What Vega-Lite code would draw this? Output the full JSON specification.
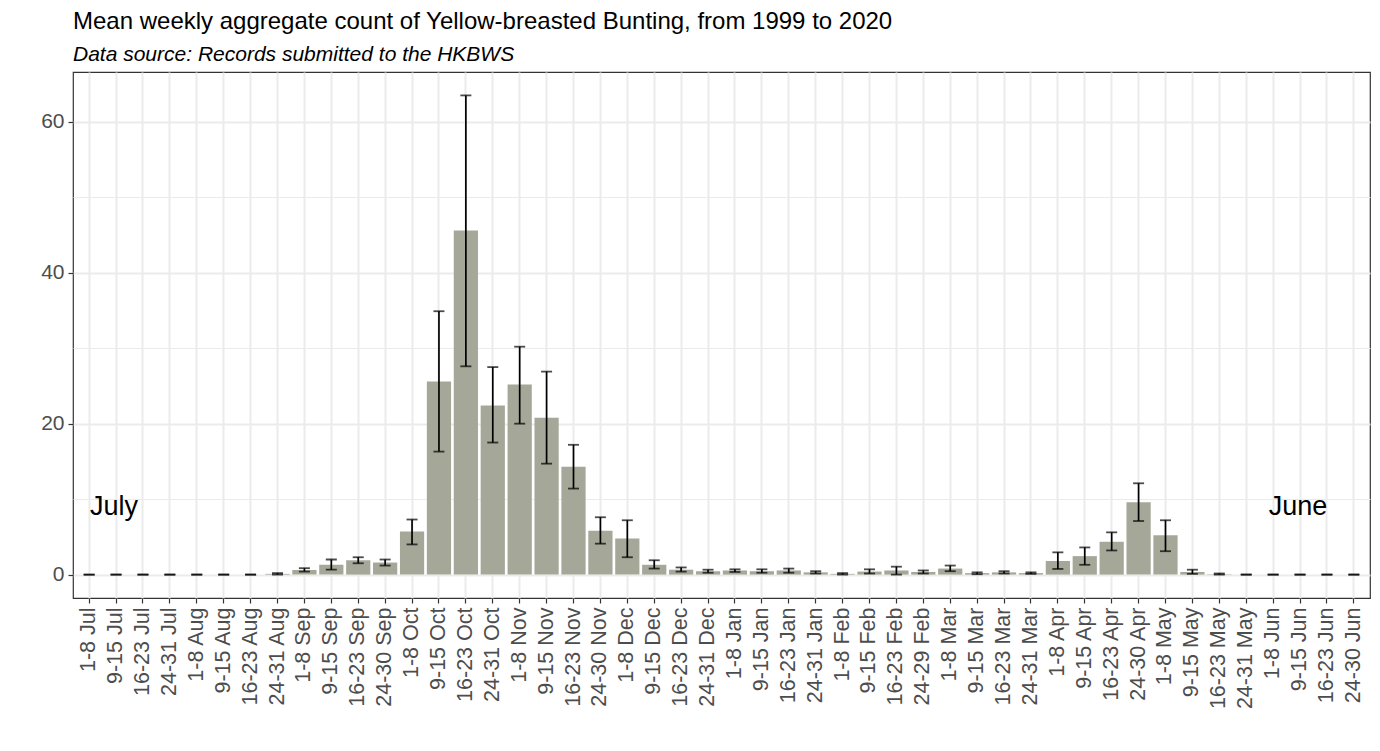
{
  "$schema": "https://vega.github.io/schema/vega-lite/v6.json",
  "width": 1297,
  "height": 526,
  "autosize": {"type": "none"},
  "padding": {"left": 73, "top": 72, "right": 10, "bottom": 153},
  "background": "white",
  "title": {
    "text": "Mean weekly aggregate count of Yellow-breasted Bunting, from 1999 to 2020",
    "subtitle": "Data source: Records submitted to the HKBWS",
    "anchor": "start",
    "frame": "group",
    "font": "Liberation Sans",
    "fontSize": 24,
    "fontWeight": "normal",
    "color": "black",
    "subtitleFont": "Liberation Sans",
    "subtitleFontSize": 21,
    "subtitleFontStyle": "italic",
    "subtitleColor": "black",
    "subtitlePadding": 10,
    "offset": 7
  },
  "data": {
    "values": [
      {"week": "1-8 Jul", "mean": 0, "lo": 0, "hi": 0},
      {"week": "9-15 Jul", "mean": 0, "lo": 0, "hi": 0},
      {"week": "16-23 Jul", "mean": 0, "lo": 0, "hi": 0},
      {"week": "24-31 Jul", "mean": 0, "lo": 0, "hi": 0},
      {"week": "1-8 Aug", "mean": 0, "lo": 0, "hi": 0},
      {"week": "9-15 Aug", "mean": 0, "lo": 0, "hi": 0},
      {"week": "16-23 Aug", "mean": 0, "lo": 0, "hi": 0},
      {"week": "24-31 Aug", "mean": 0.1, "lo": 0, "hi": 0.2},
      {"week": "1-8 Sep", "mean": 0.6, "lo": 0.4, "hi": 0.85},
      {"week": "9-15 Sep", "mean": 1.3, "lo": 0.65, "hi": 2.0},
      {"week": "16-23 Sep", "mean": 1.9, "lo": 1.5, "hi": 2.3},
      {"week": "24-30 Sep", "mean": 1.6, "lo": 1.2, "hi": 2.0},
      {"week": "1-8 Oct", "mean": 5.7, "lo": 4.0, "hi": 7.3},
      {"week": "9-15 Oct", "mean": 25.6, "lo": 16.3, "hi": 34.9},
      {"week": "16-23 Oct", "mean": 45.6, "lo": 27.6, "hi": 63.5},
      {"week": "24-31 Oct", "mean": 22.4, "lo": 17.5, "hi": 27.5},
      {"week": "1-8 Nov", "mean": 25.2, "lo": 20.0, "hi": 30.2},
      {"week": "9-15 Nov", "mean": 20.8, "lo": 14.7, "hi": 26.9},
      {"week": "16-23 Nov", "mean": 14.3, "lo": 11.4, "hi": 17.2},
      {"week": "24-30 Nov", "mean": 5.8, "lo": 4.1, "hi": 7.6},
      {"week": "1-8 Dec", "mean": 4.8, "lo": 2.3, "hi": 7.2},
      {"week": "9-15 Dec", "mean": 1.3, "lo": 0.8, "hi": 1.9},
      {"week": "16-23 Dec", "mean": 0.65, "lo": 0.4, "hi": 0.95},
      {"week": "24-31 Dec", "mean": 0.45, "lo": 0.25, "hi": 0.65},
      {"week": "1-8 Jan", "mean": 0.55, "lo": 0.35, "hi": 0.7},
      {"week": "9-15 Jan", "mean": 0.45, "lo": 0.25, "hi": 0.7},
      {"week": "16-23 Jan", "mean": 0.55, "lo": 0.25, "hi": 0.8},
      {"week": "24-31 Jan", "mean": 0.3, "lo": 0.15, "hi": 0.45},
      {"week": "1-8 Feb", "mean": 0.1, "lo": 0.0, "hi": 0.2},
      {"week": "9-15 Feb", "mean": 0.4, "lo": 0.15, "hi": 0.7},
      {"week": "16-23 Feb", "mean": 0.55, "lo": 0.0, "hi": 1.05},
      {"week": "24-29 Feb", "mean": 0.35, "lo": 0.15, "hi": 0.55},
      {"week": "1-8 Mar", "mean": 0.8, "lo": 0.45, "hi": 1.2},
      {"week": "9-15 Mar", "mean": 0.2, "lo": 0.05, "hi": 0.3},
      {"week": "16-23 Mar", "mean": 0.3, "lo": 0.15, "hi": 0.45},
      {"week": "24-31 Mar", "mean": 0.2, "lo": 0.1, "hi": 0.3},
      {"week": "1-8 Apr", "mean": 1.8, "lo": 0.75, "hi": 2.95},
      {"week": "9-15 Apr", "mean": 2.45, "lo": 1.3, "hi": 3.6},
      {"week": "16-23 Apr", "mean": 4.35, "lo": 3.2, "hi": 5.6},
      {"week": "24-30 Apr", "mean": 9.6, "lo": 7.1, "hi": 12.1},
      {"week": "1-8 May", "mean": 5.2, "lo": 3.1, "hi": 7.2},
      {"week": "9-15 May", "mean": 0.35, "lo": 0.1, "hi": 0.65},
      {"week": "16-23 May", "mean": 0.05, "lo": 0.0, "hi": 0.15},
      {"week": "24-31 May", "mean": 0, "lo": 0, "hi": 0},
      {"week": "1-8 Jun", "mean": 0, "lo": 0, "hi": 0},
      {"week": "9-15 Jun", "mean": 0, "lo": 0, "hi": 0},
      {"week": "16-23 Jun", "mean": 0, "lo": 0, "hi": 0},
      {"week": "24-30 Jun", "mean": 0, "lo": 0, "hi": 0}
    ]
  },
  "encoding": {
    "x": {
      "field": "week",
      "type": "nominal",
      "sort": null,
      "title": null,
      "scale": {"paddingInner": 0.1, "paddingOuter": 0.15},
      "axis": {
        "labelAngle": -90,
        "labelFont": "Liberation Sans",
        "labelFontSize": 21.5,
        "labelColor": "#4D4D4D",
        "labelPadding": 4,
        "tickSize": 5,
        "tickColor": "#333333",
        "tickWidth": 1.2,
        "domain": false,
        "grid": true,
        "gridColor": "#EBEBEB",
        "gridWidth": 2,
        "bandPosition": 0.5
      }
    },
    "y": {
      "type": "quantitative",
      "scale": {"domain": [-3.1, 66.6], "nice": false, "zero": false},
      "axis": {
        "title": null,
        "values": [0, 10, 20, 30, 40, 50, 60],
        "labelExpr": "datum.value % 20 == 0 ? datum.label : ''",
        "labelFont": "Liberation Sans",
        "labelFontSize": 21,
        "labelColor": "#4D4D4D",
        "labelPadding": 4,
        "tickSize": 5,
        "tickColor": "#333333",
        "tickWidth": 1.2,
        "tickOpacity": {"condition": {"test": "datum.value % 20 != 0", "value": 0}, "value": 1},
        "domain": false,
        "grid": true,
        "gridColor": "#EBEBEB",
        "gridWidth": {"condition": {"test": "datum.value % 20 != 0", "value": 1}, "value": 2}
      }
    }
  },
  "layer": [
    {
      "mark": {"type": "bar", "color": "#A5A898"},
      "encoding": {"y": {"field": "mean", "type": "quantitative"}}
    },
    {
      "mark": {"type": "rule", "color": "black", "strokeWidth": 1.7},
      "encoding": {
        "y": {"field": "lo", "type": "quantitative"},
        "y2": {"field": "hi"}
      }
    },
    {
      "mark": {"type": "tick", "color": "black", "size": 11, "thickness": 1.8},
      "encoding": {"y": {"field": "lo", "type": "quantitative"}}
    },
    {
      "mark": {"type": "tick", "color": "black", "size": 11, "thickness": 1.8},
      "encoding": {"y": {"field": "hi", "type": "quantitative"}}
    },
    {
      "data": {
        "values": [
          {"week": "9-15 Jul", "level": 9, "label": "July"},
          {"week": "9-15 Jun", "level": 9, "label": "June"}
        ]
      },
      "mark": {
        "type": "text",
        "font": "Liberation Sans",
        "fontSize": 27,
        "color": "black",
        "align": "center",
        "baseline": "middle",
        "dx": -2
      },
      "encoding": {
        "y": {"field": "level", "type": "quantitative"},
        "text": {"field": "label"}
      }
    }
  ],
  "config": {
    "view": {"stroke": "#333333", "strokeWidth": 1.2},
    "axis": {"labelFont": "Liberation Sans"}
  }
}
